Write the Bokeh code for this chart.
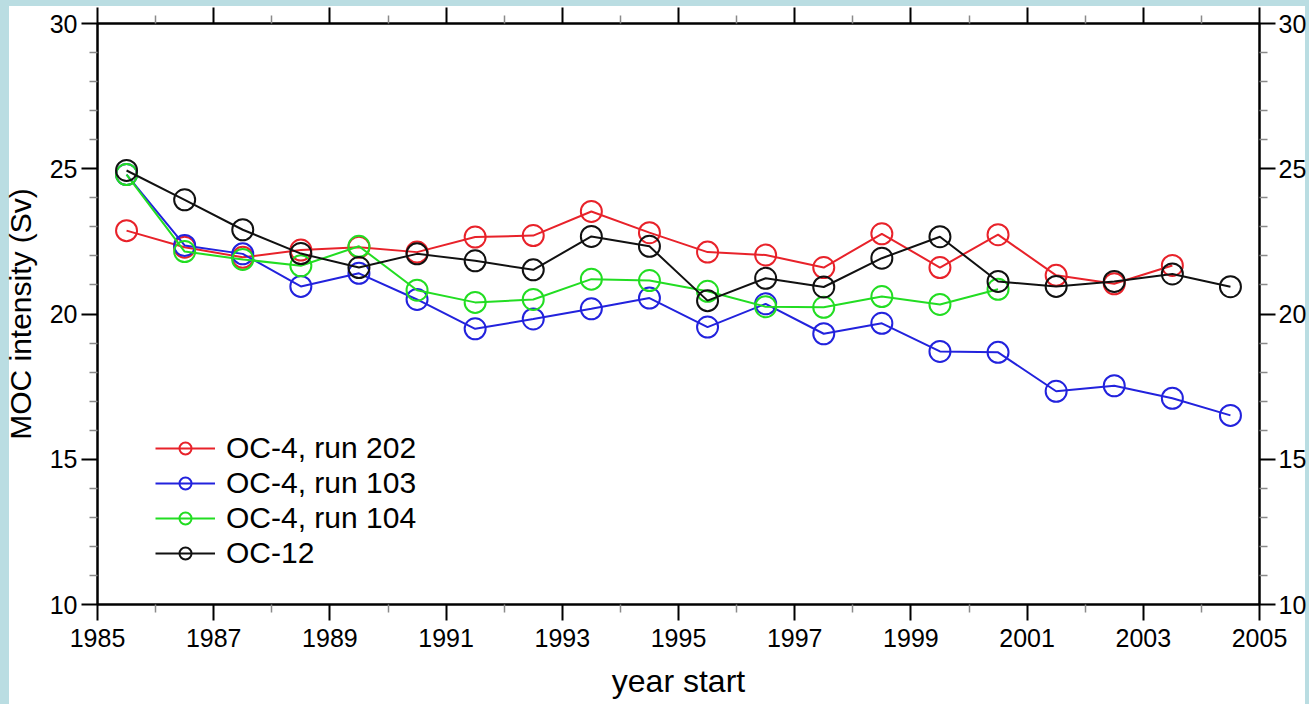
from bokeh.plotting import figure
from bokeh.models import Range1d, LinearAxis, FixedTicker, Legend, LegendItem
from bokeh.embed import file_html
from bokeh.resources import INLINE

# Start year of each averaging window (plotted at mid-year)
year_start = [1985.5, 1986.5, 1987.5, 1988.5, 1989.5, 1990.5, 1991.5, 1992.5,
              1993.5, 1994.5, 1995.5, 1996.5, 1997.5, 1998.5, 1999.5, 2000.5,
              2001.5, 2002.5, 2003.5, 2004.5]

# MOC intensity (Sv) for each run
oc4_run202 = [22.87, 22.3, 21.95, 22.2, 22.3, 22.13, 22.65, 22.7, 23.53, 22.8,
              22.13, 22.03, 21.6, 22.76, 21.6, 22.73, 21.33, 21.04, 21.67]
oc4_run103 = [24.8, 22.36, 22.07, 20.95, 21.4, 20.5, 19.49, 19.83, 20.18, 20.55,
              19.55, 20.35, 19.32, 19.68, 18.71, 18.68, 17.34, 17.53, 17.1, 16.51]
oc4_run104 = [24.8, 22.15, 21.88, 21.66, 22.33, 20.82, 20.4, 20.5, 21.2, 21.15,
              20.78, 20.25, 20.23, 20.6, 20.33, 20.85]
oc12 = [24.94, 23.93, 22.9, 22.08, 21.6, 22.07, 21.83, 21.52, 22.67, 22.33,
        20.46, 21.23, 20.93, 21.92, 22.66, 21.12, 20.95, 21.12, 21.38, 20.94]

series = [
    ("OC-4, run 202", oc4_run202, "#e8222a"),
    ("OC-4, run 103", oc4_run103, "#2222dd"),
    ("OC-4, run 104", oc4_run104, "#22dd22"),
    ("OC-12", oc12, "#111111"),
]

x_major = [1985, 1987, 1989, 1991, 1993, 1995, 1997, 1999, 2001, 2003, 2005]
x_minor = [1986, 1988, 1990, 1992, 1994, 1996, 1998, 2000, 2002, 2004]
y_major = [10, 15, 20, 25, 30]
y_minor = [v for v in range(10, 31) if v % 5 != 0]

FONT = "Liberation Sans"
EDGE = "#badde2"

p = figure(width=1309, height=704,
           x_range=Range1d(1985, 2005), y_range=Range1d(10, 30),
           output_backend="svg", toolbar_location=None,
           min_border_left=97, min_border_right=50,
           min_border_top=23, min_border_bottom=100,
           background_fill_color="white", border_fill_color=None)
# white page with a light blue edge on the left, top and right
p.styles = {
    "background": (
        f"linear-gradient({EDGE},{EDGE}) left top / 9px 100% no-repeat, "
        f"linear-gradient({EDGE},{EDGE}) left top / 100% 6px no-repeat, "
        f"linear-gradient({EDGE},{EDGE}) right top / 4px 100% no-repeat, "
        "white"
    )
}
p.xgrid.visible = False
p.ygrid.visible = False
p.outline_line_color = "black"
p.outline_line_width = 2

xt = FixedTicker(ticks=x_major, minor_ticks=x_minor)
yt = FixedTicker(ticks=y_major, minor_ticks=y_minor)


def style_axis(ax):
    ax.axis_line_color = "black"
    ax.axis_line_width = 2
    ax.major_tick_line_color = "black"
    ax.major_tick_line_width = 2
    ax.major_tick_out = 16
    ax.major_tick_in = 0
    ax.minor_tick_line_color = "#8a8a8a"
    ax.minor_tick_line_width = 1.5
    ax.minor_tick_out = 8
    ax.minor_tick_in = 0
    ax.major_label_text_font = FONT
    ax.major_label_text_font_size = "25px"
    ax.major_label_text_color = "black"
    ax.axis_label_text_font = FONT
    ax.axis_label_text_font_size = "31px"
    ax.axis_label_text_font_style = "normal"
    ax.axis_label_text_color = "black"


xb = p.xaxis[0]
xb.ticker = xt
xb.axis_label = "year start"
xb.major_label_standoff = 8
xb.axis_label_standoff = 13
style_axis(xb)
xb.axis_label_text_font_size = "32px"

yl = p.yaxis[0]
yl.ticker = yt
yl.axis_label = "MOC intensity (Sv)"
yl.major_label_standoff = 4
yl.axis_label_standoff = 10
style_axis(yl)
yl.axis_label_text_font_size = "30px"

xtop = LinearAxis(ticker=xt, major_label_overrides={v: "" for v in x_major})
style_axis(xtop)
xtop.major_label_text_font_size = "0px"
xtop.major_label_standoff = 0
p.add_layout(xtop, "above")

yr = LinearAxis(ticker=yt)
style_axis(yr)
yr.major_label_standoff = 3
p.add_layout(yr, "right")

# one single-entry legend per run, stacked at a fixed row pitch
ROW = 35
for i, (label, vals, color) in enumerate(series):
    xs = year_start[:len(vals)]
    ln = p.line(xs, vals, line_color=color, line_width=2)
    sc = p.scatter(xs, vals, marker="circle", size=21, fill_color=None,
                   line_color=color, line_width=2)
    lg = Legend(items=[LegendItem(label=label, renderers=[ln, sc])],
                location=(58, 34 + (len(series) - 1 - i) * ROW))
    lg.padding = 0
    lg.margin = 0
    lg.spacing = 0
    lg.border_line_color = None
    lg.background_fill_alpha = 0
    lg.glyph_width = 60
    lg.glyph_height = 30
    lg.label_height = 30
    lg.label_standoff = 11
    lg.label_text_font = FONT
    lg.label_text_font_size = "30px"
    lg.label_text_color = "black"
    p.add_layout(lg)

open("out.html", "w").write(file_html(p, INLINE))
